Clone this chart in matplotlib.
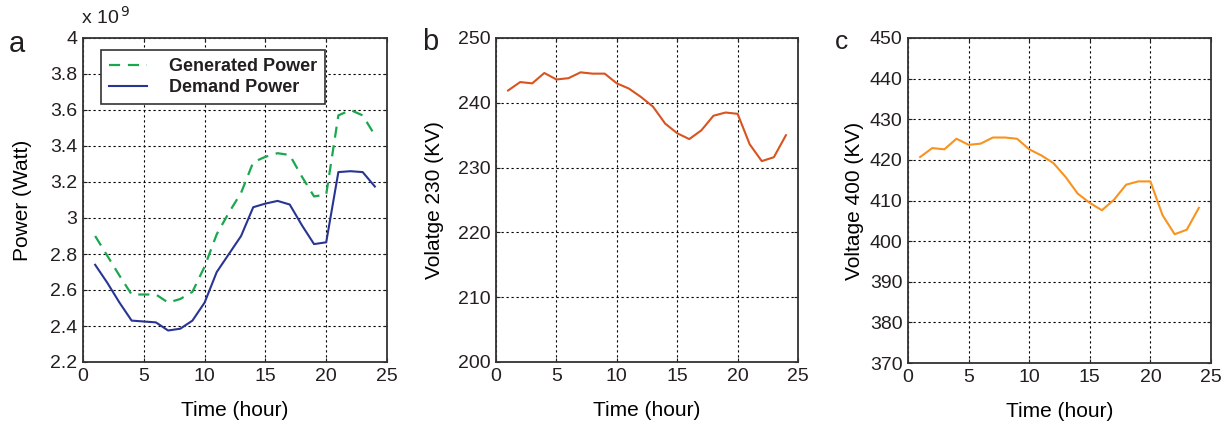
import matplotlib.pyplot as plt

hours = list(range(1, 25))

# power in units of 1e9 W
generated_power = [2.90, 2.79, 2.68, 2.575, 2.575, 2.575, 2.53, 2.55, 2.59, 2.73,
                   2.91, 3.03, 3.14, 3.31, 3.34, 3.36, 3.35, 3.23, 3.12, 3.13,
                   3.57, 3.60, 3.57, 3.46]
demand_power = [2.74, 2.64, 2.53, 2.43, 2.425, 2.42, 2.375, 2.385, 2.43, 2.53,
                2.70, 2.80, 2.90, 3.06, 3.08, 3.095, 3.075, 2.96, 2.855, 2.865,
                3.255, 3.26, 3.255, 3.175]

voltage_230 = [241.9, 243.2, 243.0, 244.6, 243.6, 243.8, 244.7, 244.5, 244.5, 243.0,
               242.2, 240.9, 239.4, 236.8, 235.3, 234.4, 235.75, 238.0, 238.5, 238.3,
               233.6, 231.0, 231.6, 235.0]
voltage_400 = [420.7, 422.9, 422.6, 425.2, 423.7, 424.0, 425.5, 425.5, 425.2, 422.6,
               421.1, 419.2, 415.8, 411.7, 409.4, 407.6, 410.2, 413.9, 414.7, 414.7,
               406.4, 401.7, 402.8, 408.2]

x_ticks = [0, 5, 10, 15, 20, 25]
power_ticks = [2.2, 2.4, 2.6, 2.8, 3.0, 3.2, 3.4, 3.6, 3.8, 4.0]
power_tick_labels = ["2.2", "2.4", "2.6", "2.8", "3", "3.2", "3.4", "3.6", "3.8", "4"]
v230_ticks = [200, 210, 220, 230, 240, 250]
v400_ticks = [370, 380, 390, 400, 410, 420, 430, 440, 450]

TEXT = "#231f20"
plt.rcParams.update({
    "font.family": ["Liberation Sans", "DejaVu Sans"],
    "font.size": 14,
    "text.color": TEXT,
    "axes.edgecolor": "#333333",
    "axes.linewidth": 1.3,
    "xtick.color": TEXT,
    "ytick.color": TEXT,
    "xtick.labelsize": 14,
    "ytick.labelsize": 14,
})

W, H = 1230, 424
fig = plt.figure(figsize=(W / 100, H / 100), dpi=100)


def make_axes(left, right, top=38, bottom=362):
    return fig.add_axes([left / W, 1 - bottom / H, (right - left) / W, (bottom - top) / H])


def style(ax):
    ax.set_xlim(0, 25)
    ax.set_xticks(x_ticks)
    ax.grid(True, color="black", linestyle=(0, (2, 2.5)), linewidth=0.8)
    ax.tick_params(direction="in", length=3, top=True, right=True, pad=4, width=0.8)
    ax.set_xlabel("Time (hour)", fontsize=15, labelpad=12)
    for s in ax.spines.values():
        s.set_zorder(5)


ax_a = make_axes(83, 387)
ax_b = make_axes(496, 798)
ax_c = make_axes(908, 1211, bottom=363)

# panel a
ax_a.plot(hours, generated_power, color="#19a84e", linestyle=(0, (5, 3.5)), linewidth=1.6,
          label="Generated Power")
ax_a.plot(hours, demand_power, color="#283593", linewidth=1.5, label="Demand Power")
ax_a.set_ylim(2.2, 4.0)
ax_a.set_yticks(power_ticks)
ax_a.set_yticklabels(power_tick_labels)
ax_a.set_ylabel("Power (Watt)", fontsize=15, labelpad=13)
style(ax_a)
ax_a.text(-0.005, 1.03, "x 10$^{\\,9}$", transform=ax_a.transAxes, fontsize=14, va="bottom")
leg = ax_a.legend(loc="upper left", bbox_to_anchor=(0.059, 0.962), fancybox=False,
                  framealpha=1, edgecolor="#333333", handlelength=2.1, handletextpad=1.2,
                  borderpad=0.45, labelspacing=0.2, borderaxespad=0.0,
                  prop={"weight": "bold", "size": 13})
leg.get_frame().set_linewidth(1.2)

# panel b
ax_b.plot(hours, voltage_230, color="#d9531e", linewidth=1.5)
ax_b.set_ylim(200, 250)
ax_b.set_yticks(v230_ticks)
ax_b.set_ylabel("Volatge 230 (KV)", fontsize=15, labelpad=10)
style(ax_b)

# panel c
ax_c.plot(hours, voltage_400, color="#f7931e", linewidth=1.5)
ax_c.set_ylim(370, 450)
ax_c.set_yticks(v400_ticks)
ax_c.set_ylabel("Voltage 400 (KV)", fontsize=15, labelpad=4)
style(ax_c)

fig.text(9 / W, 1 - 44 / H, "a", fontsize=21, va="center")
fig.text(422 / W, 1 - 42 / H, "b", fontsize=21, va="center")
fig.text(835 / W, 1 - 42 / H, "c", fontsize=19, va="center")

fig.savefig("out.png", dpi=100)
